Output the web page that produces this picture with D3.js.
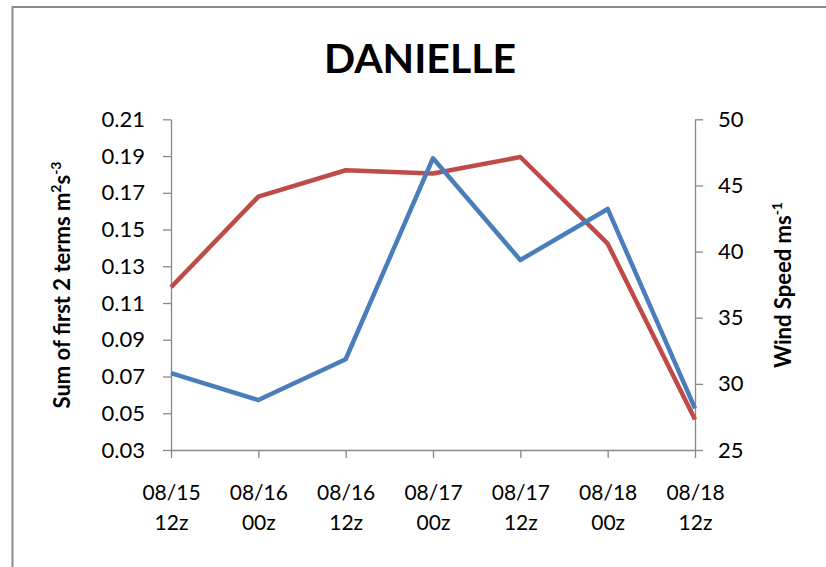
<!DOCTYPE html>
<html>
<head>
<meta charset="utf-8">
<script src="https://cdn.jsdelivr.net/npm/d3@7"></script>
<style>
  body { margin: 0; background: #fff; }
  text { font-family: Lato, "Open Sans", sans-serif; fill: #000; }
</style>
</head>
<body>
<svg id="chart" width="826" height="567"></svg>
<script>
// chart data
const times = ['08/15 12z', '08/16 00z', '08/16 12z', '08/17 00z', '08/17 12z', '08/18 00z', '08/18 12z'];
const sumTerms = [0.0718, 0.0572, 0.0794, 0.1888, 0.1334, 0.1612, 0.0527];
const windSpeed = [37.3, 44.15, 46.15, 45.9, 47.15, 40.6, 27.3];
const leftTicks = [0.03, 0.05, 0.07, 0.09, 0.11, 0.13, 0.15, 0.17, 0.19, 0.21];
const rightTicks = [25, 30, 35, 40, 45, 50];

const svg = d3.select('#chart');
const plotLeft = 171, plotRight = 695, plotTop = 119.3, plotBottom = 450;

// frame
svg.append('path')
  .attr('d', 'M12.5,830 V7 H830')
  .attr('fill', 'none')
  .attr('stroke', '#8a8a8a')
  .attr('stroke-width', 2);

svg.append('text')
  .text('DANIELLE')
  .attr('x', 420).attr('y', 73)
  .attr('text-anchor', 'middle')
  .style('font-size', '41px')
  .style('font-weight', 'bold');

let xScale = d3.scalePoint().domain(times).range([plotLeft, plotRight]);
let yLeft = d3.scaleLinear().domain([0.03, 0.21]).range([plotBottom, plotTop]);
let yRight = d3.scaleLinear().domain([25, 50]).range([plotBottom, plotTop]);

function styleAxis(g) {
  g.selectAll('path, line').attr('stroke', '#888').attr('stroke-width', 1.3);
  g.selectAll('text').style('font-size', '22px').attr('fill', '#111');
}

let xAxis = svg.append('g')
  .attr('transform', `translate(0,${plotBottom})`)
  .call(d3.axisBottom(xScale).tickSize(8).tickSizeOuter(0).tickFormat(''));
styleAxis(xAxis);
// two-line tick labels
xAxis.selectAll('.tick').each(function(d) {
  let parts = d.split(' ');
  let t = d3.select(this).append('text')
    .attr('text-anchor', 'middle')
    .style('font-size', '21px')
    .attr('fill', '#111');
  t.append('tspan').attr('x', 0).attr('y', 50).text(parts[0]);
  t.append('tspan').attr('x', 0).attr('y', 80).text(parts[1]);
});

let leftAxis = svg.append('g')
  .attr('transform', `translate(${plotLeft},0)`)
  .call(d3.axisLeft(yLeft).tickValues(leftTicks).tickSize(8).tickSizeOuter(0)
    .tickPadding(18).tickFormat(d3.format('.2f')));
styleAxis(leftAxis);

let rightAxis = svg.append('g')
  .attr('transform', `translate(${plotRight},0)`)
  .call(d3.axisRight(yRight).tickValues(rightTicks).tickSize(8).tickSizeOuter(0)
    .tickPadding(15));
styleAxis(rightAxis);

// axis titles
let lt = svg.append('text')
  .attr('transform', 'translate(70,285) rotate(-90)')
  .attr('text-anchor', 'middle')
  .style('font-size', '22px')
  .style('font-weight', 'bold');
lt.append('tspan').text('Sum of first 2 terms m');
lt.append('tspan').text('2').attr('dy', -9).style('font-size', '14px');
lt.append('tspan').text('s').attr('dy', 9);
lt.append('tspan').text('-3').attr('dy', -9).style('font-size', '14px');

let rt = svg.append('text')
  .attr('transform', 'translate(791,285) rotate(-90)')
  .attr('text-anchor', 'middle')
  .style('font-size', '22px')
  .style('font-weight', 'bold');
rt.append('tspan').text('Wind Speed ms');
rt.append('tspan').text('-1').attr('dy', -9).style('font-size', '14px');

// lines
let lineLeft = d3.line().x((d, i) => xScale(times[i])).y(d => yLeft(d));
let lineRight = d3.line().x((d, i) => xScale(times[i])).y(d => yRight(d));

svg.append('path')
  .attr('d', lineRight(windSpeed))
  .attr('fill', 'none')
  .attr('stroke', '#be4b48')
  .attr('stroke-width', 4.5)
  .attr('stroke-linejoin', 'round');

svg.append('path')
  .attr('d', lineLeft(sumTerms))
  .attr('fill', 'none')
  .attr('stroke', '#4a7ebb')
  .attr('stroke-width', 4.5)
  .attr('stroke-linejoin', 'round');
</script>
</body>
</html>
